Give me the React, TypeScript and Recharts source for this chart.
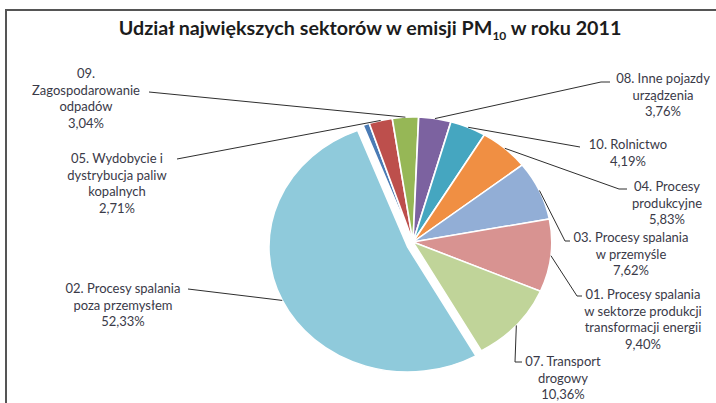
import React from "react";
import { PieChart, Pie, Cell } from "recharts";

// ---- data ----
const sectorCodes = ["inne", "05", "09", "08", "10", "04", "03", "01", "07", "02"];
const shares = [0.76, 2.71, 3.04, 3.76, 4.19, 5.83, 7.62, 9.4, 10.36, 52.33];
const sectorNames: string[][] = [
  [],
  ["05. Wydobycie i", "dystrybucja paliw", "kopalnych"],
  ["09.", "Zagospodarowanie", "odpadów"],
  ["08. Inne pojazdy", "urządzenia"],
  ["10. Rolnictwo"],
  ["04. Procesy", "produkcyjne"],
  ["03. Procesy spalania", "w przemyśle"],
  ["01. Procesy spalania", "w sektorze produkcji", "transformacji energii"],
  ["07. Transport", "drogowy"],
  ["02. Procesy spalania", "poza przemysłem"],
];
const explodedCode = "02";

// ---- styles ----
const colors = [
  "#4a7bb5", "#bd4f4c", "#96b756", "#7c62a0", "#45a6c0",
  "#f08f43", "#92aed6", "#d89391", "#c0d499", "#8fcadb",
];

// label placement: text centre x, first line centre y, leader points near the text
const labelLayout: { tx: number; ty: number; lead: number[][] }[] = [
  { tx: 0, ty: 0, lead: [] },
  { tx: 117, ty: 158, lead: [[177, 159]] },
  { tx: 86, ty: 73, lead: [[149, 92]] },
  { tx: 663, ty: 78, lead: [[610, 82], [601, 82]] },
  { tx: 628, ty: 144, lead: [[580, 147]] },
  { tx: 667, ty: 186, lead: [[627, 189], [619, 189]] },
  { tx: 631, ty: 237, lead: [[570, 241], [565, 241]] },
  { tx: 643, ty: 294, lead: [[582, 296], [577, 296]] },
  { tx: 563, ty: 361, lead: [[522, 362], [515, 362]] },
  { tx: 123, ty: 288, lead: [[188, 289]] },
];

const CX = 413;
const CY = 242;
const R = 125;
const SX = 1.11;
const LINE_H = 16.5;

const data = sectorCodes.map((code, i) => ({ code, value: shares[i] }));

const fmt = (v: number) => v.toFixed(2).replace(".", ",") + "%";

const makeLabel = (visible: (code: string) => boolean) => (props: any) => {
  const { cx, cy, midAngle, outerRadius, index } = props;
  const d = data[index];
  if (!d || !visible(d.code) || sectorNames[index].length === 0) return null;
  const rad = (-midAngle * Math.PI) / 180;
  const rawX = cx + outerRadius * Math.cos(rad);
  const px = CX + (rawX - CX) * SX;
  const py = cy + outerRadius * Math.sin(rad);
  const lay = labelLayout[index];
  const pts = [...lay.lead, [px, py]];
  const lines = [...sectorNames[index], fmt(d.value)];
  return (
    <g key={`lbl-${index}`}>
      <polyline
        points={pts.map((p) => p.join(",")).join(" ")}
        fill="none"
        stroke="#2e2e2e"
        strokeWidth={1}
      />
      <text
        x={lay.tx}
        y={lay.ty}
        textAnchor="middle"
        dominantBaseline="central"
        fontFamily="Lato, 'Open Sans', sans-serif"
        fontSize={13}
        fill="#3a3a48"
      >
        {lines.map((l, j) => (
          <tspan key={j} x={lay.tx} y={lay.ty + j * LINE_H}>
            {l}
          </tspan>
        ))}
      </text>
    </g>
  );
};

export default function App() {
  return (
    <div
      style={{
        position: "absolute",
        left: 0,
        top: 0,
        width: 716,
        height: 403,
        overflow: "hidden",
        background: "#ffffff",
      }}
    >
      <style>{`path.recharts-sector { transform-origin: ${CX}px ${CY}px; transform: scaleX(${SX}); }`}</style>
      <div
        style={{
          position: "absolute",
          left: 5,
          top: 9,
          width: 760,
          height: 460,
          border: "2px solid #555",
          boxSizing: "border-box",
        }}
      />
      <div
        style={{
          position: "absolute",
          left: 0,
          top: 16,
          width: 740,
          textAlign: "center",
          fontFamily: "Lato, 'Open Sans', sans-serif",
          fontWeight: 700,
          fontSize: 19.7,
          color: "#1c1c1c",
        }}
      >
        Udział największych sektorów w emisji PM
        <sub style={{ fontSize: 12 }}>10</sub> w roku 2011
      </div>
      <div style={{ position: "absolute", left: 0, top: 0 }}>
        <PieChart width={716} height={403} margin={{ top: 0, right: 0, bottom: 0, left: 0 }}>
          <Pie
            data={data}
            dataKey="value"
            nameKey="code"
            cx={CX}
            cy={CY}
            outerRadius={R}
            startAngle={111.1}
            endAngle={-248.9}
            isAnimationActive={false}
            label={makeLabel((c) => c !== explodedCode)}
            labelLine={false}
          >
            {data.map((d, i) =>
              d.code === explodedCode ? (
                <Cell key={i} fill="none" stroke="none" />
              ) : (
                <Cell key={i} fill={colors[i]} stroke="#ffffff" strokeWidth={1.5} />
              )
            )}
          </Pie>
          <Pie
            data={data}
            dataKey="value"
            nameKey="code"
            cx={CX - 4.8}
            cy={CY + 5}
            outerRadius={R}
            startAngle={111.1}
            endAngle={-248.9}
            isAnimationActive={false}
            label={makeLabel((c) => c === explodedCode)}
            labelLine={false}
          >
            {data.map((d, i) =>
              d.code === explodedCode ? (
                <Cell key={i} fill={colors[i]} stroke="#ffffff" strokeWidth={1.5} />
              ) : (
                <Cell key={i} fill="none" stroke="none" />
              )
            )}
          </Pie>
        </PieChart>
      </div>
    </div>
  );
}
